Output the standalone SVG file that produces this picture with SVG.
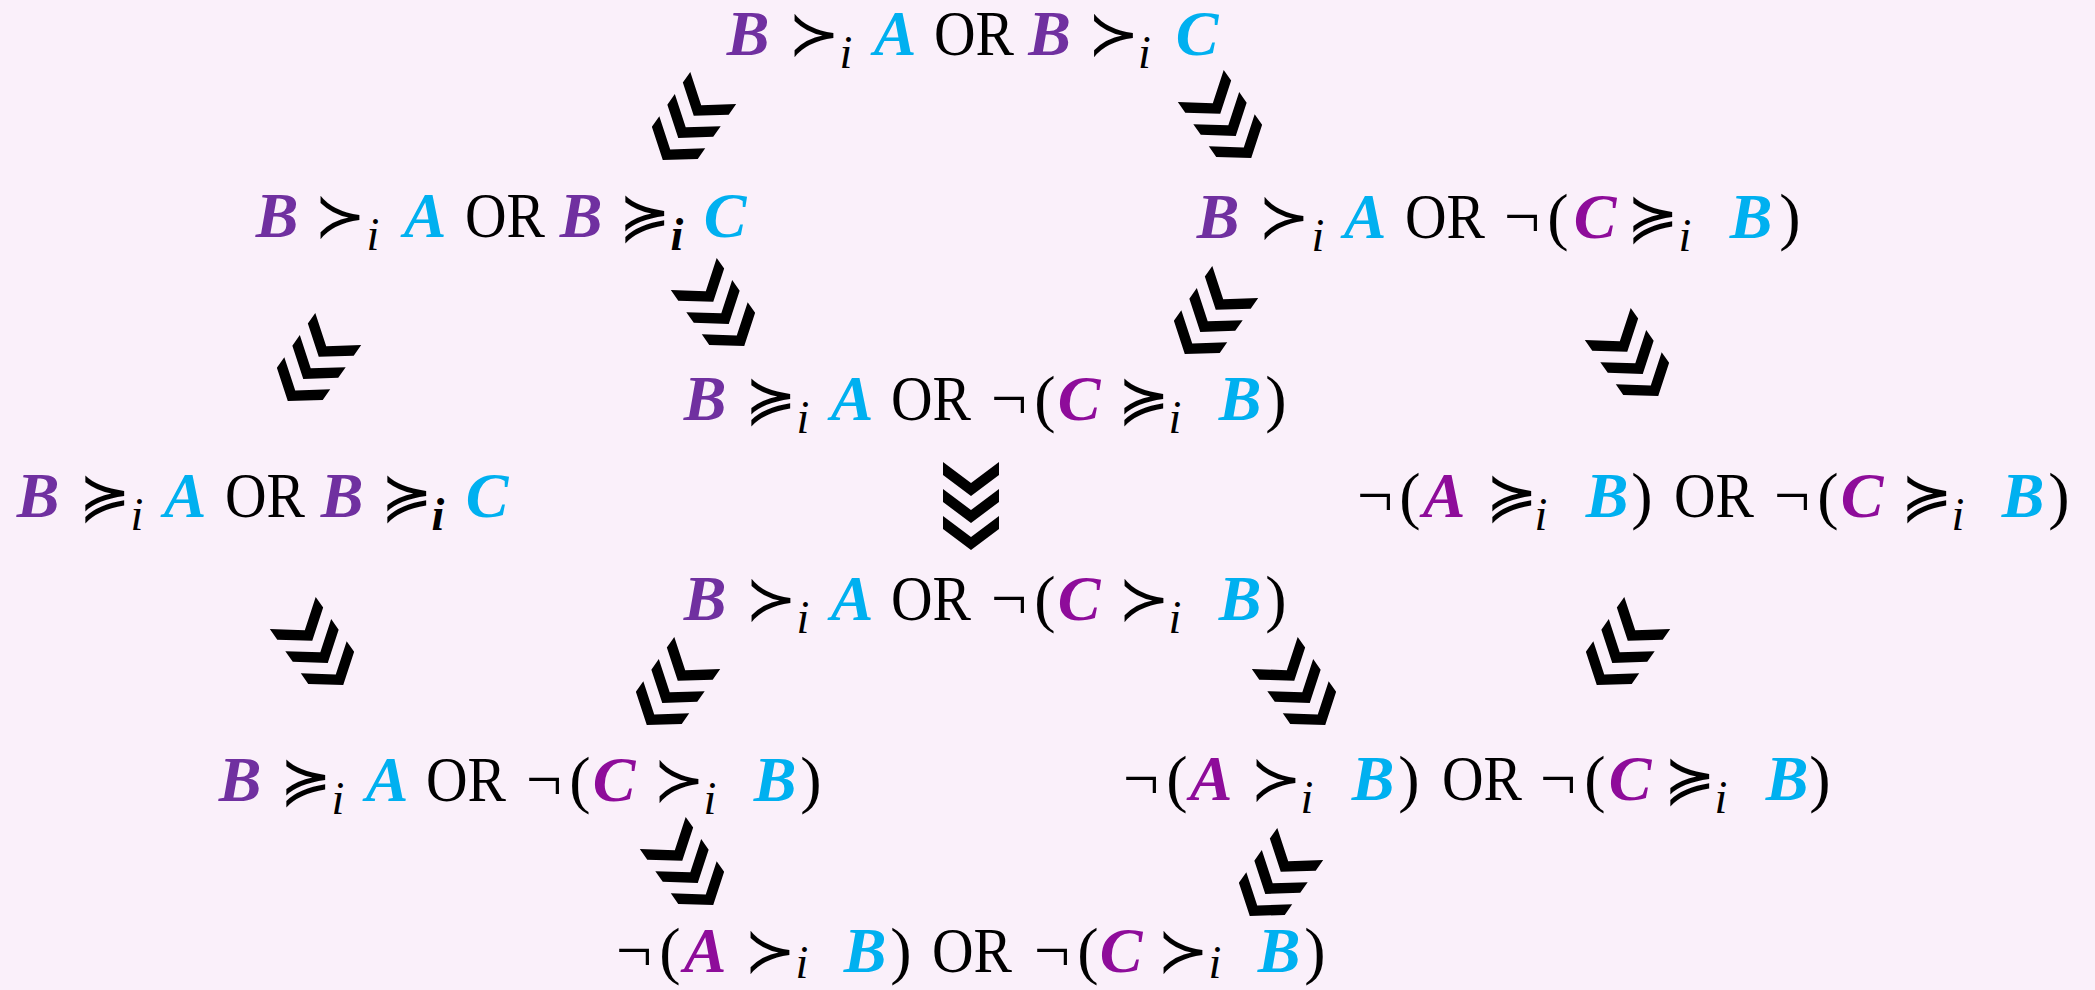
<svg xmlns="http://www.w3.org/2000/svg" xmlns:xlink="http://www.w3.org/1999/xlink" width="2095" height="990" viewBox="0 0 2095 990">
<style>
.t{font-family:"Liberation Serif",serif;font-size:64px;text-anchor:middle;fill:#000}
.v{font-weight:bold;font-style:italic}
.p{fill:#7030A0}.c{fill:#00B0F0}.m{fill:#8E0C9A}
.r{font-family:"DejaVu Sans",sans-serif;font-size:62px}
.s{font-style:italic;font-size:46px}
.sb{font-style:italic;font-weight:bold;font-size:46px}
</style>
<defs>
<g id="chev">
<polygon points="-28,-44 0,-23 28,-44 28,-31 0,-10 -28,-31"/>
<polygon points="-28,-17 0,4 28,-17 28,-4 0,17 -28,-4"/>
<polygon points="-28,10 0,31 28,10 28,23 0,44 -28,23"/>
</g>
</defs>
<rect width="2095" height="990" fill="#FAF0FA"/>
<g id="connectors" fill="#000">
<use xlink:href="#chev" transform="translate(688,124) rotate(35)"/>
<use xlink:href="#chev" transform="translate(1226,122) rotate(-35)"/>
<use xlink:href="#chev" transform="translate(719,310) rotate(-35)"/>
<use xlink:href="#chev" transform="translate(1210,318) rotate(35)"/>
<use xlink:href="#chev" transform="translate(313,365) rotate(35)"/>
<use xlink:href="#chev" transform="translate(1633,360) rotate(-35)"/>
<use xlink:href="#chev" transform="translate(971,506)"/>
<use xlink:href="#chev" transform="translate(318,649) rotate(-35)"/>
<use xlink:href="#chev" transform="translate(672,689) rotate(35)"/>
<use xlink:href="#chev" transform="translate(1300,689) rotate(-35)"/>
<use xlink:href="#chev" transform="translate(1622,649) rotate(35)"/>
<use xlink:href="#chev" transform="translate(688,869) rotate(-35)"/>
<use xlink:href="#chev" transform="translate(1275,880) rotate(35)"/>
</g>
<g id="n1"><text class="t"><tspan x="748" y="55" class="v p">B</tspan><tspan x="814" y="55" class="r">≻</tspan><tspan x="846" y="68" class="s">i</tspan><tspan x="895" y="55" class="v c">A</tspan><tspan x="974" y="55" textLength="80" lengthAdjust="spacingAndGlyphs">OR</tspan><tspan x="1049.5" y="55" class="v p">B</tspan><tspan x="1113.5" y="55" class="r">≻</tspan><tspan x="1144.5" y="68" class="s">i</tspan><tspan x="1197" y="55" class="v c">C</tspan></text></g>
<g id="n2"><text class="t"><tspan x="277" y="237" class="v p">B</tspan><tspan x="340" y="237" class="r">≻</tspan><tspan x="373" y="250" class="s">i</tspan><tspan x="425" y="237" class="v c">A</tspan><tspan x="505" y="237" textLength="80" lengthAdjust="spacingAndGlyphs">OR</tspan><tspan x="581" y="237" class="v p">B</tspan><tspan x="645" y="237" class="r">≽</tspan><tspan x="677" y="250" class="sb">i</tspan><tspan x="725" y="237" class="v c">C</tspan></text></g>
<g id="n3"><text class="t"><tspan x="1218" y="238" class="v p">B</tspan><tspan x="1284" y="238" class="r">≻</tspan><tspan x="1318" y="251" class="s">i</tspan><tspan x="1365" y="238" class="v c">A</tspan><tspan x="1445" y="238" textLength="80" lengthAdjust="spacingAndGlyphs">OR</tspan><tspan x="1522" y="238">¬</tspan><tspan x="1558" y="238">(</tspan><tspan x="1595" y="238" class="v m">C</tspan><tspan x="1653" y="238" class="r">≽</tspan><tspan x="1685" y="251" class="s">i</tspan><tspan x="1751" y="238" class="v c">B</tspan><tspan x="1790" y="238">)</tspan></text></g>
<g id="n4"><text class="t"><tspan x="705" y="420" class="v p">B</tspan><tspan x="771" y="420" class="r">≽</tspan><tspan x="803" y="433" class="s">i</tspan><tspan x="852" y="420" class="v c">A</tspan><tspan x="931" y="420" textLength="80" lengthAdjust="spacingAndGlyphs">OR</tspan><tspan x="1009" y="420">¬</tspan><tspan x="1045" y="420">(</tspan><tspan x="1079" y="420" class="v m">C</tspan><tspan x="1144" y="420" class="r">≽</tspan><tspan x="1175" y="433" class="s">i</tspan><tspan x="1240" y="420" class="v c">B</tspan><tspan x="1276" y="420">)</tspan></text></g>
<g id="n5"><text class="t"><tspan x="38" y="517" class="v p">B</tspan><tspan x="105" y="517" class="r">≽</tspan><tspan x="137" y="530" class="s">i</tspan><tspan x="185" y="517" class="v c">A</tspan><tspan x="265" y="517" textLength="80" lengthAdjust="spacingAndGlyphs">OR</tspan><tspan x="342" y="517" class="v p">B</tspan><tspan x="407" y="517" class="r">≽</tspan><tspan x="438" y="530" class="sb">i</tspan><tspan x="487" y="517" class="v c">C</tspan></text></g>
<g id="n6"><text class="t"><tspan x="1375" y="517">¬</tspan><tspan x="1410" y="517">(</tspan><tspan x="1444" y="517" class="v m">A</tspan><tspan x="1512" y="517" class="r">≽</tspan><tspan x="1541" y="530" class="s">i</tspan><tspan x="1607" y="517" class="v c">B</tspan><tspan x="1642" y="517">)</tspan><tspan x="1714" y="517" textLength="80" lengthAdjust="spacingAndGlyphs">OR</tspan><tspan x="1792" y="517">¬</tspan><tspan x="1828" y="517">(</tspan><tspan x="1862" y="517" class="v m">C</tspan><tspan x="1927" y="517" class="r">≽</tspan><tspan x="1958" y="530" class="s">i</tspan><tspan x="2023" y="517" class="v c">B</tspan><tspan x="2059" y="517">)</tspan></text></g>
<g id="n7"><text class="t"><tspan x="705" y="620" class="v p">B</tspan><tspan x="771" y="620" class="r">≻</tspan><tspan x="803" y="633" class="s">i</tspan><tspan x="852" y="620" class="v c">A</tspan><tspan x="931" y="620" textLength="80" lengthAdjust="spacingAndGlyphs">OR</tspan><tspan x="1009" y="620">¬</tspan><tspan x="1045" y="620">(</tspan><tspan x="1079" y="620" class="v m">C</tspan><tspan x="1144" y="620" class="r">≻</tspan><tspan x="1175" y="633" class="s">i</tspan><tspan x="1240" y="620" class="v c">B</tspan><tspan x="1276" y="620">)</tspan></text></g>
<g id="n8"><text class="t"><tspan x="240" y="801" class="v p">B</tspan><tspan x="306" y="801" class="r">≽</tspan><tspan x="338" y="814" class="s">i</tspan><tspan x="387" y="801" class="v c">A</tspan><tspan x="466" y="801" textLength="80" lengthAdjust="spacingAndGlyphs">OR</tspan><tspan x="544" y="801">¬</tspan><tspan x="580" y="801">(</tspan><tspan x="614" y="801" class="v m">C</tspan><tspan x="679" y="801" class="r">≻</tspan><tspan x="710" y="814" class="s">i</tspan><tspan x="775" y="801" class="v c">B</tspan><tspan x="811" y="801">)</tspan></text></g>
<g id="n9"><text class="t"><tspan x="1141" y="800">¬</tspan><tspan x="1177" y="800">(</tspan><tspan x="1211" y="800" class="v m">A</tspan><tspan x="1276" y="800" class="r">≻</tspan><tspan x="1307" y="813" class="s">i</tspan><tspan x="1373" y="800" class="v c">B</tspan><tspan x="1409" y="800">)</tspan><tspan x="1482" y="800" textLength="80" lengthAdjust="spacingAndGlyphs">OR</tspan><tspan x="1558" y="800">¬</tspan><tspan x="1595" y="800">(</tspan><tspan x="1630" y="800" class="v m">C</tspan><tspan x="1690" y="800" class="r">≽</tspan><tspan x="1721" y="813" class="s">i</tspan><tspan x="1787" y="800" class="v c">B</tspan><tspan x="1820" y="800">)</tspan></text></g>
<g id="n10"><text class="t"><tspan x="634" y="972">¬</tspan><tspan x="670" y="972">(</tspan><tspan x="705" y="972" class="v m">A</tspan><tspan x="770" y="972" class="r">≻</tspan><tspan x="802" y="978" class="s">i</tspan><tspan x="865" y="972" class="v c">B</tspan><tspan x="901" y="972">)</tspan><tspan x="972" y="972" textLength="80" lengthAdjust="spacingAndGlyphs">OR</tspan><tspan x="1052" y="972">¬</tspan><tspan x="1088" y="972">(</tspan><tspan x="1121" y="972" class="v m">C</tspan><tspan x="1183" y="972" class="r">≻</tspan><tspan x="1215" y="978" class="s">i</tspan><tspan x="1279" y="972" class="v c">B</tspan><tspan x="1315" y="972">)</tspan></text></g>
</svg>
